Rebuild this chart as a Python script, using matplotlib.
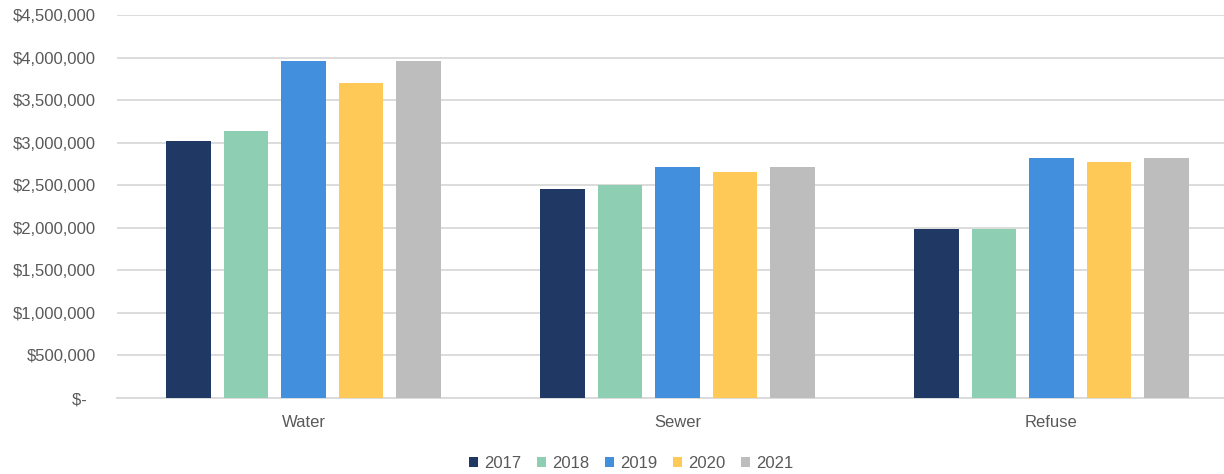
import matplotlib.pyplot as plt
import numpy as np

categories = ["Water", "Sewer", "Refuse"]
years = ["2017", "2018", "2019", "2020", "2021"]
values_2017 = [3020000, 2455000, 1985000]
values_2018 = [3137000, 2500000, 1985000]
values_2019 = [3955000, 2712000, 2823000]
values_2020 = [3700000, 2655000, 2770000]
values_2021 = [3955000, 2712000, 2823000]
y_ticks = [0, 500000, 1000000, 1500000, 2000000, 2500000, 3000000, 3500000, 4000000, 4500000]

series = [values_2017, values_2018, values_2019, values_2020, values_2021]
colors = ["#203864", "#8ECFB4", "#428FDE", "#FEC956", "#BDBDBD"]

plt.rcParams['font.family'] = ['Liberation Sans', 'DejaVu Sans']

fig = plt.figure(figsize=(12.24, 4.74), dpi=100)
# axes spans past the right edge like the original, so clip via xlim
left, bottom, top = 116.5 / 1224, 1 - 398 / 474, 1 - 15 / 474
ax = fig.add_axes([left, bottom, 1 - left, top - bottom])

x = np.arange(len(categories))
pitch = 0.1537
width = 0.120
for i, (vals, col, yr) in enumerate(zip(series, colors, years)):
    ax.bar(x + (i - 2) * pitch, vals, width=width, color=col, label=yr, zorder=3)

ax.set_xlim(-0.5, -0.5 + (1224 - 116.5) / 374)
ax.set_ylim(0, 4500000)
ax.set_yticks(y_ticks)
ax.set_yticklabels(["$-  " if v == 0 else f"${v:,.0f}" for v in y_ticks])
ax.set_xticks(x)
ax.set_xticklabels(categories)

ax.grid(axis='y', color='#D9D9D9', linewidth=1.3, zorder=0)
for s in ['top', 'right', 'left']:
    ax.spines[s].set_visible(False)
ax.spines['bottom'].set_color('#D9D9D9')
ax.spines['bottom'].set_linewidth(1.3)
ax.tick_params(axis='y', length=0, pad=15, labelsize=12, labelcolor='#595959')
ax.tick_params(axis='x', length=0, pad=12, labelsize=12, labelcolor='#595959')

leg = fig.legend(loc='center', bbox_to_anchor=(631 / 1224, 1 - 463 / 474), ncol=5,
                 frameon=False, fontsize=12, handlelength=0.55, handleheight=0.55,
                 handletextpad=0.35, columnspacing=0.95)
for t in leg.get_texts():
    t.set_color('#595959')

fig.savefig("out.png", dpi=100)
